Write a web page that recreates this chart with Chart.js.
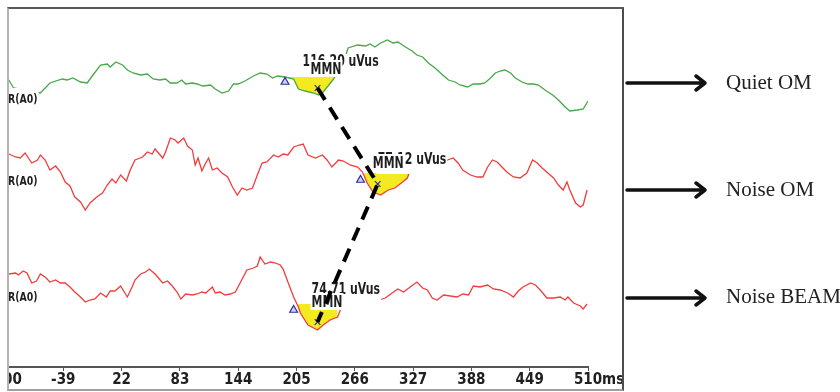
<!DOCTYPE html>
<html>
<head>
<meta charset="utf-8">
<title>MMN</title>
<script src="https://cdn.jsdelivr.net/npm/chart.js@4.4.1/dist/chart.umd.min.js"></script>
<style>
  html, body { margin:0; padding:0; background:#fff; }
  #page { position:relative; width:840px; height:392px; overflow:hidden; background:#fff; }
  #panel { position:absolute; left:7px; top:7px; width:613px; height:380px;
           border-top:2px solid #595959; border-left:2px solid #b4b4b4;
           border-right:2px solid #4d4d4d; border-bottom:2px solid #a0a0a0; overflow:hidden; }
  #myChart { position:absolute; left:-9px; top:-9px; }
  #side { position:absolute; left:624px; top:0; }
</style>
</head>
<body>
<div id="page">
  <div id="panel"><canvas id="myChart" width="630" height="392"></canvas></div>
  <canvas id="side" width="216" height="392"></canvas>
</div>
<script>
// condiciones (una traza por condicion)
const conditions = ['Quiet OM', 'Noise OM', 'Noise BEAM']
const channelLabel = 'R(A0)'
const xTicks = [-100, -39, 22, 83, 144, 205, 266, 327, 388, 449, 510]

// Quiet OM (verde) - tiempo en ms, amplitud relativa a la linea base
const quietTime = [-96,-91,-63,-53,-40,-35,-29,-21,-14,-8,
  0,7,10,16,23,28,34,42,49,55,
  62,68,73,80,85,89,96,101,107,115,
  120,127,134,139,144,151,160,167,174,180,
  185,193,202,207,214,223,228,233,243,251,
  256,259,269,277,282,287,293,300,306,311,
  319,326,331,337,343,350,358,364,371,376,
  384,390,397,402,408,413,418,423,429,434,
  441,447,453,458,465,473,479,486,491,499,
  505,510]
const quietAmp = [5,-3,-8,2,6,5,7,3,2,10,
  20,21,18,23,20,15,12,10,11,6,
  5,6,2,2,5,1,2,1,-1,0,
  -4,-8,-6,1,1,4,9,12,11,7,
  9,8,6,-4,-6,-8,-10,-7,5,17,
  28,37,40,39,41,38,42,45,42,43,
  38,34,30,28,22,17,10,5,3,0,
  -2,1,1,2,7,12,14,15,12,7,
  3,1,1,0,-5,-10,-15,-22,-26,-25,
  -24,-16]

// Noise OM (rojo)
const noiseOmTime = [-96,-89,-84,-79,-72,-66,-63,-58,-53,-47,
  -42,-37,-32,-27,-21,-16,-11,-4,2,7,
  12,16,21,27,31,36,44,49,54,57,
  65,68,73,78,81,87,91,96,99,102,
  106,110,113,117,122,127,133,138,143,148,
  153,159,164,169,174,181,186,191,196,202,
  208,212,217,225,232,237,242,249,254,261,
  269,274,279,285,293,301,308,316,321,324,
  334,348,363,369,374,379,387,394,400,405,
  410,415,420,425,432,439,446,452,457,462,
  468,474,479,484,488,491,497,502,505,509]
const noiseOmAmp = [21,18,17,22,12,15,20,15,5,9,
  3,-7,-11,-22,-27,-35,-28,-22,-18,-10,
  -4,-8,0,-6,5,15,18,23,21,26,
  17,23,37,35,32,37,29,25,10,17,
  4,12,17,5,7,2,-2,-12,-20,-13,
  -15,-13,0,12,13,20,18,21,20,28,
  30,31,20,17,20,15,8,15,14,10,
  8,3,-8,-17,-20,-15,-13,-7,-3,5,
  5,5,15,17,12,5,0,-2,-2,8,
  15,13,8,3,-2,-3,2,15,12,7,
  2,-3,-10,-15,-7,-15,-28,-32,-30,-15]

// Noise BEAM (rojo)
const noiseBeamTime = [-96,-89,-86,-81,-77,-72,-67,-63,-58,-53,
  -47,-42,-37,-32,-27,-21,-16,-11,-6,0,
  6,10,15,21,28,33,36,42,47,51,
  57,65,70,75,80,84,89,96,101,106,
  110,117,120,125,130,136,141,146,153,160,
  164,167,172,178,183,188,191,196,202,207,
  209,217,227,233,240,248,254,270,284,291,
  298,305,311,317,324,331,337,342,347,352,
  359,366,373,379,385,390,397,405,411,418,
  426,432,437,442,450,455,460,467,474,481,
  486,489,495,502,505,509]
const noiseBeamAmp = [16,17,15,19,17,7,9,16,13,8,
  10,7,7,3,-2,-7,-12,-10,-9,-3,
  -7,-1,-1,4,-7,3,10,16,18,21,
  16,7,9,4,-2,-9,-4,-5,-4,-2,
  -3,3,-3,-2,-5,-4,-2,7,20,22,
  24,33,26,28,27,25,21,8,-7,-17,
  -23,-35,-40,-35,-30,-27,-12,-10,-13,-10,
  -8,-3,1,-2,3,8,2,0,-8,-10,
  -5,-6,-7,-4,-5,4,3,5,1,0,
  -3,-7,-1,3,7,5,0,-8,-8,-7,
  -10,-7,-13,-16,-19,-14]

// MMN: ventana, inicio, pico y area
const mmnWinStart = [195, 275, 206]
const mmnWinEnd = [246, 324, 248]
const mmnWinTop = [8, 2, -14]
const mmnOnsetTime = [193, 272, 202]
const mmnOnsetAmp = [3, -5, -20]
const mmnPeakTime = [227, 290, 227]
const mmnPeakAmp = [-3, -9, -32]
const mmnValues = ['116.20 uVus', '77.12 uVus', '74.71 uVus']

// separacion vertical de los canales
const channelOffset = [282, 192, 77]

const narrow = "'Liberation Sans Narrow', 'DejaVu Sans Condensed', 'Arial Narrow', sans-serif"
const colores = ['#46a846', '#f23c3c', '#f23c3c']
const amarillo = '#f3eb1f'

function puntos(times, amps, off){
  return times.map((t, i) => ({x: t, y: off + amps[i]}))
}

const series = [
  puntos(quietTime, quietAmp, channelOffset[0]),
  puntos(noiseOmTime, noiseOmAmp, channelOffset[1]),
  puntos(noiseBeamTime, noiseBeamAmp, channelOffset[2])
]

// texto estrecho (la captura original esta estirada en vertical)
function textoEstrecho(c, txt, x, y, sx, bg){
  const w = c.measureText(txt).width * sx
  if (bg){
    c.fillStyle = '#fff'
    c.fillRect(x - 1, y + bg[0], w + 2, bg[1] - bg[0])
  }
  c.save()
  c.translate(x, y)
  c.scale(sx, 1)
  c.fillStyle = '#1e1e1e'
  c.fillText(txt, 0, 0)
  c.restore()
  return w
}

function grafico_mmn(){
  const ctx = document.getElementById('myChart')
  const datasets = []

  // trazas
  series.forEach((pts, i) => {
    datasets.push({
      label: conditions[i], data: pts, borderColor: colores[i], borderWidth: 1.3,
      pointRadius: 0, tension: 0, fill: false, order: 3
    })
  })

  // area amarilla de la MMN
  series.forEach((pts, i) => {
    const top = channelOffset[i] + mmnWinTop[i]
    const seg = pts.filter(p => p.x >= mmnWinStart[i] && p.x <= mmnWinEnd[i])
    const data = [{x: mmnWinStart[i], y: top}].concat(seg, [{x: mmnWinEnd[i], y: top}])
    datasets.push({
      data: data, borderWidth: 0, pointRadius: 0, tension: 0, order: 5,
      fill: {target: {value: top}, below: amarillo, above: 'rgba(0,0,0,0)'}
    })
  })

  // marcadores azules
  datasets.push({
    data: mmnOnsetTime.map((t, i) => ({x: t, y: channelOffset[i] + mmnOnsetAmp[i]})),
    showLine: false, pointStyle: 'triangle', pointRadius: 4.5,
    pointBackgroundColor: 'rgba(190,190,255,0.7)', pointBorderColor: '#2c2c98', pointBorderWidth: 1.2, order: 2
  })
  datasets.push({
    data: mmnPeakTime.map((t, i) => ({x: t, y: channelOffset[i] + mmnPeakAmp[i]})),
    showLine: false, pointStyle: 'crossRot', pointRadius: 4,
    pointBorderColor: '#2c2c98', pointBorderWidth: 1.2, order: 2
  })

  // linea discontinua que une los picos
  datasets.push({
    data: mmnPeakTime.map((t, i) => ({x: t, y: channelOffset[i] + mmnPeakAmp[i]})),
    borderColor: '#000', borderWidth: 4, borderDash: [14, 9], pointRadius: 0,
    tension: 0, fill: false, order: 0, etiquetas: true
  })

  const etiquetas = {
    id: 'etiquetas',
    beforeDatasetDraw(chart, args){
      if (!chart.data.datasets[args.index].etiquetas) return
      const c = chart.ctx, x = chart.scales.x, y = chart.scales.y
      c.save()
      c.textBaseline = 'middle'
      c.textAlign = 'left'
      // nombre del canal
      const chanDy = [15, 7, 8]
      c.font = 'bold 13px ' + narrow
      channelOffset.forEach((off, i) => {
        const py = y.getPixelForValue(off) + chanDy[i]
        textoEstrecho(c, channelLabel, 8, py, 0.8, [-12, 7])
      })
      // valor y MMN
      const valDx = [-15, 0, -6], valDy = [-26, -24, -32]
      const mmnDx = [-7, -5, -6], mmnDy = [-18, -20, -19]
      c.font = 'bold 16px ' + narrow
      mmnPeakTime.forEach((t, i) => {
        const px = x.getPixelForValue(t)
        const py = y.getPixelForValue(channelOffset[i] + mmnPeakAmp[i])
        textoEstrecho(c, mmnValues[i], px + valDx[i], py + valDy[i], 0.76, [-8, 14])
        textoEstrecho(c, 'MMN', px + mmnDx[i], py + mmnDy[i], 0.76, [-10, 7])
      })
      c.restore()
    },
    afterDraw(chart){
      const c = chart.ctx, x = chart.scales.x
      c.save()
      c.font = 'bold 15px ' + narrow
      c.textBaseline = 'middle'
      c.fillStyle = '#202020'
      const last = xTicks[xTicks.length - 1]
      const w = c.measureText(String(last)).width
      c.fillText('ms', x.getPixelForValue(last) + w / 2, chart.chartArea.bottom + 13)
      c.restore()
    }
  }

  new Chart(ctx, {
    type: 'line',
    data: {datasets: datasets},
    plugins: [etiquetas],
    options: {
      responsive: false,
      animation: false,
      layout: {autoPadding: false, padding: {left: 5, right: 42, top: 8, bottom: 0}},
      plugins: {legend: {display: false}, tooltip: {enabled: false}},
      scales: {
        x: {
          type: 'linear', min: -100, max: 510,
          afterBuildTicks: s => { s.ticks = xTicks.map(v => ({value: v})) },
          afterFit: s => { s.height = 25; s.paddingLeft = 0; s.paddingRight = 0 },
          grid: {drawOnChartArea: false, drawTicks: true, tickLength: 4, color: '#555'},
          border: {display: true, color: '#555', width: 2},
          ticks: {autoSkip: false, maxRotation: 0, padding: 0, color: '#202020',
                  font: {family: narrow, size: 15, weight: 'bold'}}
        },
        y: {min: 0, max: 359, display: false}
      }
    }
  })
}

// flechas y nombres de las condiciones
function lado(){
  const c = document.getElementById('side').getContext('2d')
  const arrowY = [83, 190, 298]
  const textY = [89, 196, 303]
  c.strokeStyle = '#111'
  c.lineWidth = 3.5
  c.lineCap = 'round'
  c.lineJoin = 'round'
  c.font = "21px 'Liberation Serif', serif"
  c.fillStyle = '#222'
  conditions.forEach((name, i) => {
    const yy = arrowY[i]
    c.beginPath()
    c.moveTo(3, yy); c.lineTo(80, yy)
    c.moveTo(72, yy - 7); c.lineTo(81, yy); c.lineTo(72, yy + 7)
    c.stroke()
    c.fillText(name, 102, textY[i])
  })
}

grafico_mmn()
lado()
</script>
</body>
</html>
